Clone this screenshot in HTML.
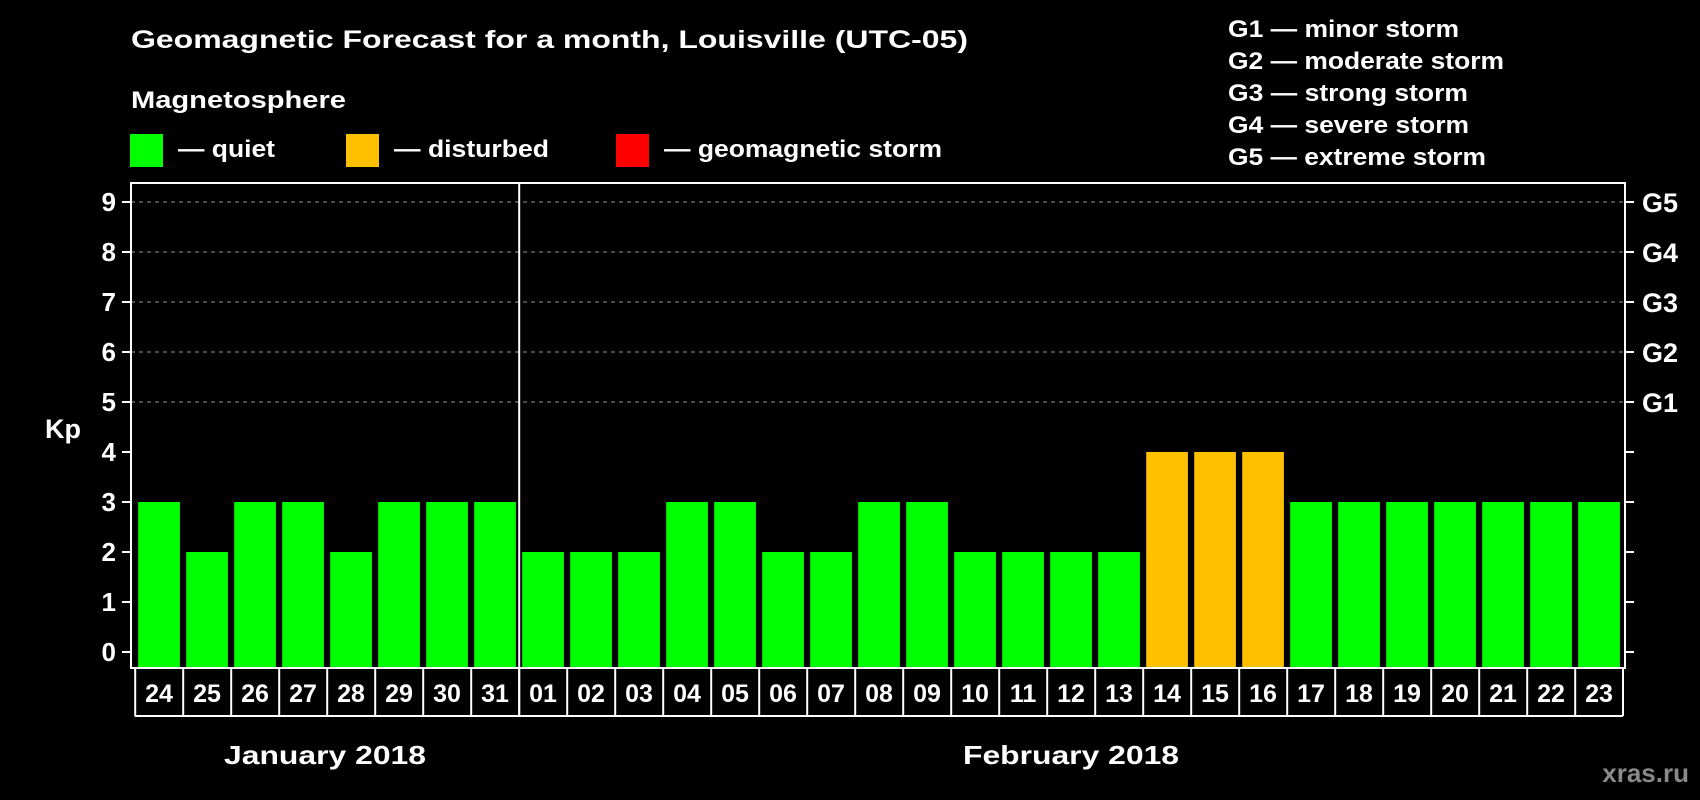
<!DOCTYPE html>
<html><head><meta charset="utf-8"><style>
html,body{margin:0;padding:0;background:#000;width:1700px;height:800px;overflow:hidden}
svg text{font-family:"Liberation Sans",Arial,sans-serif;font-weight:bold;fill:#fff}
</style></head><body>
<svg id="chart" width="1700" height="800" viewBox="0 0 1700 800" xmlns="http://www.w3.org/2000/svg">
<text x="131" y="48" font-size="25" textLength="837" lengthAdjust="spacingAndGlyphs">Geomagnetic Forecast for a month, Louisville (UTC-05)</text>
<text x="131" y="108" font-size="24" textLength="215" lengthAdjust="spacingAndGlyphs">Magnetosphere</text>
<g>
<rect x="130" y="134" width="33" height="33" fill="#00ff00"/>
<text x="178" y="157" font-size="24" textLength="97" lengthAdjust="spacingAndGlyphs">— quiet</text></g>
<g>
<rect x="346" y="134" width="33" height="33" fill="#ffc000"/>
<text x="394" y="157" font-size="24" textLength="155" lengthAdjust="spacingAndGlyphs">— disturbed</text></g>
<g>
<rect x="616" y="134" width="33" height="33" fill="#ff0000"/>
<text x="664" y="157" font-size="24" textLength="278" lengthAdjust="spacingAndGlyphs">— geomagnetic storm</text></g>
<g font-size="24">
<text x="1228" y="37" textLength="231" lengthAdjust="spacingAndGlyphs">G1 — minor storm</text>
<text x="1228" y="69" textLength="276" lengthAdjust="spacingAndGlyphs">G2 — moderate storm</text>
<text x="1228" y="101" textLength="240" lengthAdjust="spacingAndGlyphs">G3 — strong storm</text>
<text x="1228" y="133" textLength="241" lengthAdjust="spacingAndGlyphs">G4 — severe storm</text>
<text x="1228" y="165" textLength="258" lengthAdjust="spacingAndGlyphs">G5 — extreme storm</text>
</g>
<g id="grid"></g><g id="bars"></g><g id="axes"></g>
<text x="63" y="438" font-size="27" text-anchor="middle">Kp</text>
<text x="325" y="764" font-size="26" text-anchor="middle" textLength="202" lengthAdjust="spacingAndGlyphs">January 2018</text>
<text x="1071" y="764" font-size="26" text-anchor="middle" textLength="216" lengthAdjust="spacingAndGlyphs">February 2018</text>
<text x="1689" y="782" font-size="26" text-anchor="end" style="fill:#8a8a8a">xras.ru</text>
</svg>
<script>
const days = ["24","25","26","27","28","29","30","31","01","02","03","04","05","06","07","08","09","10","11","12","13","14","15","16","17","18","19","20","21","22","23"];
const kpValues = [3,2,3,3,2,3,3,3,2,2,2,3,3,2,2,3,3,2,2,2,2,4,4,4,3,3,3,3,3,3,3];
const yTicks = [0,1,2,3,4,5,6,7,8,9];
const gLabels = ["G1","G2","G3","G4","G5"];
const gLevels = [5,6,7,8,9];
const monthSplitIndex = 8;

const NS="http://www.w3.org/2000/svg";
const L=131,R=1625,T=183,B=668;
const y=v=>652-50*v;
const x0=138.2,pitch=48,bw=41.7;
const x=i=>x0+i*pitch;
function mk(tag,attrs,parent){const e=document.createElementNS(NS,tag);for(const k in attrs)e.setAttribute(k,attrs[k]);parent.appendChild(e);return e;}
const grid=document.getElementById('grid'),bars=document.getElementById('bars'),axes=document.getElementById('axes');
gLevels.forEach(v=>{
  const ln=mk('line',{x1:L,x2:R,y1:y(v),y2:y(v),stroke:'#999','stroke-width':1,'stroke-dasharray':'4,4'},grid);
  
  
});
kpValues.forEach((v,i)=>{
  const col=v>=5?'#ff0000':(v>=4?'#ffc000':'#00ff00');
  const r=mk('rect',{x:x(i),y:y(v),width:bw,height:667-y(v),fill:col},bars);
  
  
});
const frame=mk('rect',{x:L,y:T,width:R-L,height:B-T,fill:'none',stroke:'#fff','stroke-width':2},axes);


const sx=x(monthSplitIndex)-3;
const sep=mk('line',{x1:sx,x2:sx,y1:T,y2:716,stroke:'#fff','stroke-width':2},axes);


yTicks.forEach(v=>{
  mk('line',{x1:122,x2:L,y1:y(v),y2:y(v),stroke:'#fff','stroke-width':2},axes);
  mk('line',{x1:R,x2:1634,y1:y(v),y2:y(v),stroke:'#fff','stroke-width':2},axes);
  const t=mk('text',{x:116,y:y(v)+9,'font-size':26,'text-anchor':'end'},axes);
  t.textContent=v;
  
  
});
gLevels.forEach((v,i)=>{
  const t=mk('text',{x:1642,y:y(v)+10,'font-size':27},axes);
  t.textContent=gLabels[i];
  
  
});
// day label cells
const cellL=134.7;
mk('line',{x1:cellL,x2:1623,y1:716,y2:716,stroke:'#fff','stroke-width':2},axes);
days.forEach((d,i)=>{
  const cx=x(i)-3;
  mk('line',{x1:cx,x2:cx,y1:B,y2:716,stroke:'#fff','stroke-width':2},axes);
  const t=mk('text',{x:x(i)+bw/2,y:702,'font-size':25,'text-anchor':'middle'},axes);
  t.textContent=d;
  
  
});
mk('line',{x1:1623,x2:1623,y1:B,y2:716,stroke:'#fff','stroke-width':2},axes);
</script>
</body></html>
